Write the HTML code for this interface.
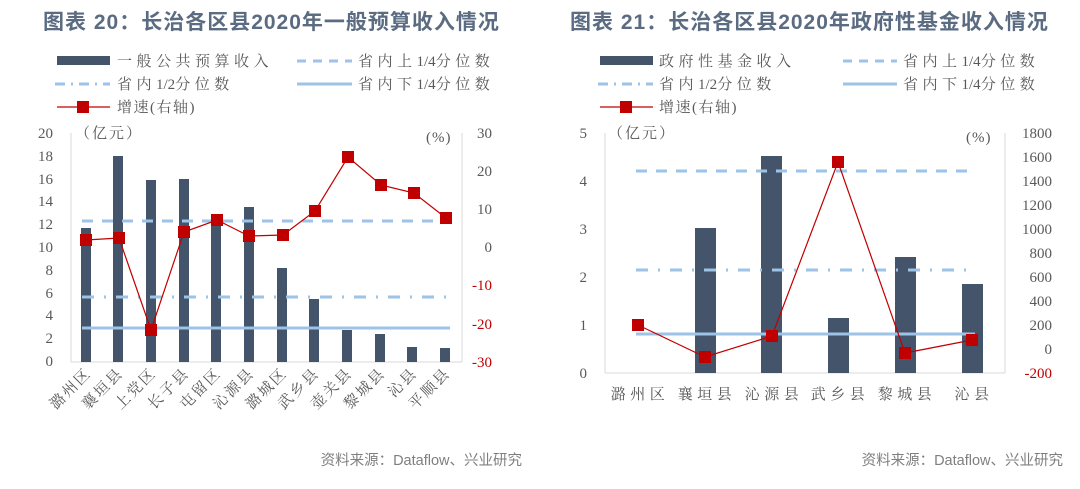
<!DOCTYPE html>
<html><head><meta charset="utf-8"><style>
html,body{margin:0;padding:0;background:#fff;}
svg{display:block}
.t{font-family:"Liberation Sans","Noto Sans CJK SC",sans-serif;font-size:21px;font-weight:bold;fill:#5b6b82;letter-spacing:1px}
.s{font-family:"Liberation Serif","Noto Serif CJK SC",serif;font-size:15px;fill:#595959}
.lg{letter-spacing:4.5px}
.n{letter-spacing:0}
.xl{letter-spacing:2px}
.r{fill:#c00000}
.src{font-family:"Liberation Sans","Noto Sans CJK SC",sans-serif;font-size:14.5px;fill:#7f7f7f}
</style></head><body>
<svg width="1080" height="489" viewBox="0 0 1080 489" xmlns="http://www.w3.org/2000/svg">
<text class="t" x="43" y="29">图表 20：长治各区县2020年一般预算收入情况</text>
<rect x="57" y="56" width="53" height="9" fill="#44546a"/>
<text class="s lg" x="117" y="66">一般公共预算收入</text>
<line x1="297" y1="61" x2="352" y2="61" stroke="#9dc3e6" stroke-width="3" stroke-dasharray="9,7"/>
<text class="s lg" x="358" y="66">省内上<tspan class="n">1/4</tspan>分位数</text>
<line x1="55" y1="84" x2="110" y2="84" stroke="#9dc3e6" stroke-width="3" stroke-dasharray="10,6,2,6"/>
<text class="s lg" x="117" y="89">省内<tspan class="n">1/2</tspan>分位数</text>
<line x1="297" y1="84" x2="352" y2="84" stroke="#9dc3e6" stroke-width="3"/>
<text class="s lg" x="358" y="89">省内下<tspan class="n">1/4</tspan>分位数</text>
<line x1="57" y1="107" x2="110" y2="107" stroke="#c00000" stroke-width="1.2"/>
<rect x="77" y="101" width="12" height="12" fill="#c00000"/>
<text class="s" x="117" y="112" style="letter-spacing:1.5px">增速(右轴)</text>
<line x1="71" y1="133" x2="71" y2="362" stroke="#d9d9d9"/>
<line x1="71" y1="362" x2="462" y2="362" stroke="#d9d9d9"/>
<line x1="462" y1="133" x2="462" y2="362" stroke="#d9d9d9"/>
<g class="s" text-anchor="end">
<text x="53" y="138">20</text><text x="53" y="161">18</text><text x="53" y="184">16</text><text x="53" y="206">14</text><text x="53" y="229">12</text><text x="53" y="252">10</text><text x="53" y="275">8</text><text x="53" y="298">6</text><text x="53" y="320">4</text><text x="53" y="343">2</text><text x="53" y="366">0</text>
</g>
<g class="s" text-anchor="end">
<text x="492" y="138">30</text><text x="492" y="176">20</text><text x="492" y="214">10</text><text x="492" y="252">0</text>
<text x="492" y="290" class="s r">-10</text><text x="492" y="329" class="s r">-20</text><text x="492" y="367" class="s r">-30</text>
</g>
<text class="s" x="75" y="138" style="letter-spacing:2px">（亿元）</text>
<text class="s" x="426" y="142" style="letter-spacing:1px">(%)</text>
<g fill="#44546a">
<rect x="81" y="228" width="10" height="134"/>
<rect x="113" y="156" width="10" height="206"/>
<rect x="146" y="180" width="10" height="182"/>
<rect x="179" y="179" width="10" height="183"/>
<rect x="211" y="224" width="10" height="138"/>
<rect x="244" y="207" width="10" height="155"/>
<rect x="277" y="268" width="10" height="94"/>
<rect x="309" y="299" width="10" height="63"/>
<rect x="342" y="330" width="10" height="32"/>
<rect x="375" y="334" width="10" height="28"/>
<rect x="407" y="347" width="10" height="15"/>
<rect x="440" y="348" width="10" height="14"/>
</g>
<line x1="82" y1="221" x2="450" y2="221" stroke="#9dc3e6" stroke-width="3" stroke-dasharray="11,9"/>
<line x1="82" y1="297" x2="450" y2="297" stroke="#9dc3e6" stroke-width="3" stroke-dasharray="12,10,2,10"/>
<line x1="82" y1="328" x2="450" y2="328" stroke="#9dc3e6" stroke-width="3"/>
<polyline fill="none" stroke="#c00000" stroke-width="1.2" points="86,240 119,238 151,330 184,232 217,220 249,236 283,235 315,211 348,157 381,185 414,193 446,218"/>
<g fill="#c00000">
<rect x="80" y="234" width="12" height="12"/><rect x="113" y="232" width="12" height="12"/><rect x="145" y="324" width="12" height="12"/><rect x="178" y="226" width="12" height="12"/><rect x="211" y="214" width="12" height="12"/><rect x="243" y="230" width="12" height="12"/><rect x="277" y="229" width="12" height="12"/><rect x="309" y="205" width="12" height="12"/><rect x="342" y="151" width="12" height="12"/><rect x="375" y="179" width="12" height="12"/><rect x="408" y="187" width="12" height="12"/><rect x="440" y="212" width="12" height="12"/>
</g>
<g class="s xl" text-anchor="end">
<text transform="translate(92,374) rotate(-45)">潞州区</text>
<text transform="translate(124,374) rotate(-45)">襄垣县</text>
<text transform="translate(157,374) rotate(-45)">上党区</text>
<text transform="translate(190,374) rotate(-45)">长子县</text>
<text transform="translate(222,374) rotate(-45)">屯留区</text>
<text transform="translate(255,374) rotate(-45)">沁源县</text>
<text transform="translate(288,374) rotate(-45)">潞城区</text>
<text transform="translate(320,374) rotate(-45)">武乡县</text>
<text transform="translate(353,374) rotate(-45)">壶关县</text>
<text transform="translate(386,374) rotate(-45)">黎城县</text>
<text transform="translate(418,374) rotate(-45)">沁县</text>
<text transform="translate(451,374) rotate(-45)">平顺县</text>
</g>
<text class="src" x="522" y="465" text-anchor="end">资料来源：Dataflow、兴业研究</text>

<text class="t" x="570" y="29">图表 21：长治各区县2020年政府性基金收入情况</text>
<rect x="600" y="56" width="53" height="9" fill="#44546a"/>
<text class="s lg" x="659" y="66">政府性基金收入</text>
<line x1="843" y1="61" x2="897" y2="61" stroke="#9dc3e6" stroke-width="3" stroke-dasharray="9,7"/>
<text class="s lg" x="903" y="66">省内上<tspan class="n">1/4</tspan>分位数</text>
<line x1="598" y1="84" x2="653" y2="84" stroke="#9dc3e6" stroke-width="3" stroke-dasharray="10,6,2,6"/>
<text class="s lg" x="659" y="89">省内<tspan class="n">1/2</tspan>分位数</text>
<line x1="843" y1="84" x2="897" y2="84" stroke="#9dc3e6" stroke-width="3"/>
<text class="s lg" x="903" y="89">省内下<tspan class="n">1/4</tspan>分位数</text>
<line x1="600" y1="107" x2="653" y2="107" stroke="#c00000" stroke-width="1.2"/>
<rect x="620" y="101" width="12" height="12" fill="#c00000"/>
<text class="s" x="659" y="112" style="letter-spacing:1.5px">增速(右轴)</text>
<line x1="605" y1="133" x2="605" y2="373" stroke="#d9d9d9"/>
<line x1="605" y1="373" x2="1005" y2="373" stroke="#d9d9d9"/>
<line x1="1005" y1="133" x2="1005" y2="373" stroke="#d9d9d9"/>
<g class="s" text-anchor="end">
<text x="587" y="138">5</text><text x="587" y="186">4</text><text x="587" y="234">3</text><text x="587" y="282">2</text><text x="587" y="330">1</text><text x="587" y="378">0</text>
</g>
<g class="s" text-anchor="end">
<text x="1052" y="138">1800</text><text x="1052" y="162">1600</text><text x="1052" y="186">1400</text><text x="1052" y="210">1200</text><text x="1052" y="234">1000</text><text x="1052" y="258">800</text><text x="1052" y="282">600</text><text x="1052" y="306">400</text><text x="1052" y="330">200</text><text x="1052" y="354">0</text><text x="1052" y="378" class="s r">-200</text>
</g>
<text class="s" x="608" y="138" style="letter-spacing:2px">（亿元）</text>
<text class="s" x="966" y="142" style="letter-spacing:1px">(%)</text>
<g fill="#44546a">
<rect x="695" y="228" width="21" height="145"/>
<rect x="761" y="156" width="21" height="217"/>
<rect x="828" y="318" width="21" height="55"/>
<rect x="895" y="257" width="21" height="116"/>
<rect x="962" y="284" width="21" height="89"/>
</g>
<line x1="636" y1="171" x2="975" y2="171" stroke="#9dc3e6" stroke-width="3" stroke-dasharray="11,9"/>
<line x1="636" y1="270" x2="975" y2="270" stroke="#9dc3e6" stroke-width="3" stroke-dasharray="12,10,2,10"/>
<line x1="636" y1="334" x2="975" y2="334" stroke="#9dc3e6" stroke-width="3"/>
<polyline fill="none" stroke="#c00000" stroke-width="1.2" points="638,325 705,357 772,336 838,162 905,353 972,340"/>
<g fill="#c00000">
<rect x="632" y="319" width="12" height="12"/><rect x="699" y="351" width="12" height="12"/><rect x="766" y="330" width="12" height="12"/><rect x="832" y="156" width="12" height="12"/><rect x="899" y="347" width="12" height="12"/><rect x="966" y="334" width="12" height="12"/>
</g>
<g class="s lg" text-anchor="middle">
<text x="640" y="399">潞州区</text><text x="707" y="399">襄垣县</text><text x="774" y="399">沁源县</text><text x="840" y="399">武乡县</text><text x="907" y="399">黎城县</text><text x="974" y="399">沁县</text>
</g>
<text class="src" x="1063" y="465" text-anchor="end">资料来源：Dataflow、兴业研究</text>
</svg>
</body></html>
